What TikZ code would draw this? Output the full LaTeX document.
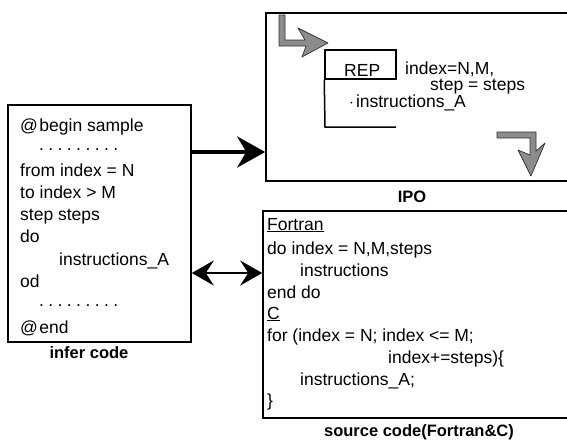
\documentclass[tikz,border=0pt]{standalone}
\usepackage{fontspec}
\setmainfont{Liberation Sans}
\usetikzlibrary{arrows.meta}
\newcommand{\mydots}{.\hspace{4.4pt}.\hspace{4.4pt}.\hspace{4.4pt}.\hspace{4.4pt}.\hspace{4.4pt}.\hspace{4.4pt}.\hspace{4.4pt}.\hspace{4.4pt}.}
\tikzset{
  box/.style={draw=black, line width=1.6pt, inner sep=0pt},
  txt/.style={anchor=base west, inner sep=0pt, font=\fontsize{17.5}{20}\selectfont},
  lbl/.style={inner sep=0pt, font=\fontsize{16.5}{20}\selectfont\bfseries},
  bigarrow/.style={line width=3.5pt, -{Stealth[length=28pt, width=31pt, inset=9pt]}},
  dblarrow/.style={line width=2pt, {Stealth[length=22pt, width=25pt, inset=8pt]}-{Stealth[length=22pt, width=25pt, inset=8pt]}},
  grayarrow/.style={fill=black!45, draw=black!80, line width=0.7pt, line join=round},
}
\begin{document}
\begin{tikzpicture}[x=1pt, y=-1pt]
\useasboundingbox (0,0) rectangle (567,439);
\clip (0,0) rectangle (567,439);
% boxes
\node[box, minimum width=183pt, minimum height=237pt] (left) at (99.5,223.5) {};
\node[box, minimum width=314pt, minimum height=168pt] (ipo) at (423,97) {};
\node[box, minimum width=317pt, minimum height=207pt] (src) at (421.5,314.5) {};
% labels
\node[lbl] (lleft) at (89,353) {infer code};
\node[lbl] (lipo) at (412,197) {IPO};
\node[lbl] (lsrc) at (419,432) {source code(Fortran\&C)};
% left text
\node[txt] (l1) at (20,131) {@\hspace{1.5pt}begin sample};
\node[txt] (l2) at (39,150) {\mydots};
\node[txt] (l3) at (20,176) {from index = N};
\node[txt] (l4) at (20,198) {to index > M};
\node[txt] (l5) at (20,220) {step steps};
\node[txt] (l6) at (20,242) {do};
\node[txt] (l7) at (59,265) {instructions\_A};
\node[txt] (l8) at (20,287) {od};
\node[txt] (l9) at (39,306) {\mydots};
\node[txt] (l10) at (20,333) {@\hspace{1.5pt}end};
% source text
\node[txt] (s1) at (267,230) {\underline{Fortran}};
\node[txt] (s2) at (267,254) {do index = N,M,steps};
\node[txt] (s3) at (300,276) {instructions};
\node[txt] (s4) at (267,298) {end do};
\node[txt] (s5) at (267,319) {\underline{C}};
\node[txt] (s6) at (267,341) {for (index = N; index <= M;};
\node[txt] (s7) at (388,363) {index+=steps)\{};
\node[txt] (s8) at (300,385) {instructions\_A;};
\node[txt] (s9) at (267,406) {\}};
% IPO content
\node[box, line width=1.5pt, minimum width=71pt, minimum height=29pt] (rep) at (360.5,64.5) {};
\node[txt] (reptxt) at (344,76) {REP};
\coordinate (bl) at (325,127);
\coordinate (br) at (396,127);
\draw[line width=1.5pt] (rep.south west) -- (bl) -- (br);
\node[txt] (i1) at (405,74) {index=N,M,};
\node[txt] (i2) at (430,90) {step = steps};
\node[txt] (i3) at (349,107) {$\cdot$\hspace{2pt}instructions\_A};
% gray L arrow (top-left)
\draw[grayarrow] (279,15) -- (285,15) -- (285,40) -- (305,40) -- (298,28) -- (328,43) -- (302,57) -- (306,46) -- (279,46) -- cycle;
% gray down arrow (bottom-right)
\draw[grayarrow] (497,132) -- (536,132) -- (536,151) -- (545,143) -- (531,176) -- (518,150) -- (530,155) -- (530,138) -- (497,138) -- cycle;
% connectors
\coordinate (a1) at (0,152);
\coordinate (a2) at (0,273);
\draw[bigarrow] (left.east |- a1) -- (ipo.west |- a1);
\draw[dblarrow] (left.east |- a2) -- (src.west |- a2);
\end{tikzpicture}
\end{document}
